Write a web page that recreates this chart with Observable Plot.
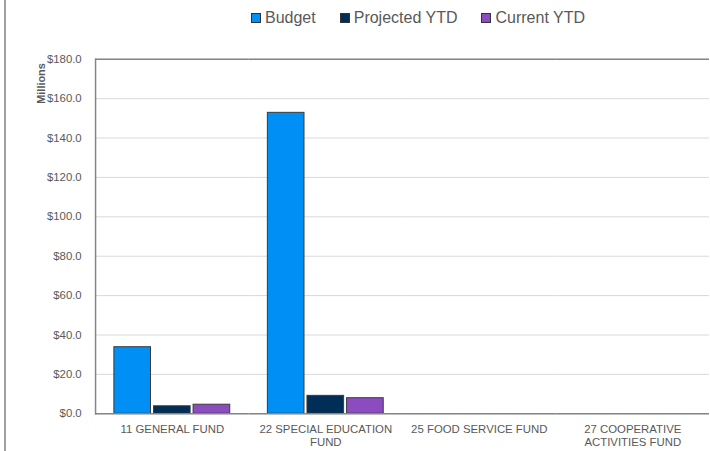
<!DOCTYPE html>
<html>
<head>
<meta charset="utf-8">
<script src="https://cdn.jsdelivr.net/npm/d3@7"></script>
<script src="https://cdn.jsdelivr.net/npm/@observablehq/plot@0.6"></script>
<style>
  html, body { margin: 0; padding: 0; background: #fff; overflow: hidden; }
  #wrap { position: relative; width: 710px; height: 451px; overflow: hidden; font-family: "Liberation Sans", Arial, sans-serif; }
  #edge { position: absolute; left: 4px; top: 0; bottom: 0; width: 2px; background: #a0a0a0; }
  #legend { position: absolute; top: 9px; left: 251px; display: flex; align-items: center; font-size: 16px; color: #595959; white-space: nowrap; }
  .item { display: flex; align-items: center; margin-right: 24px; }
  .sw { width: 8px; height: 8px; border: 1px solid #333; margin-right: 4px; }
  #chart { position: absolute; top: 35px; left: 0; }
</style>
</head>
<body>
<div id="wrap">
  <div id="edge"></div>
  <div id="legend"></div>
  <div id="chart"></div>
</div>
<script>
const categories = ["11 GENERAL FUND", "22 SPECIAL EDUCATION FUND", "25 FOOD SERVICE FUND", "27 COOPERATIVE ACTIVITIES FUND"];
const tickLabels = ["11 GENERAL FUND", "22 SPECIAL EDUCATION\nFUND", "25 FOOD SERVICE FUND", "27 COOPERATIVE\nACTIVITIES FUND"];
const series = ["Budget", "Projected YTD", "Current YTD"];
const colors = ["#0090F5", "#002E56", "#8A4CBE"];
const budget = [33.8, 152.8, 0, 0];
const projectedYTD = [3.8, 9.1, 0, 0];
const currentYTD = [4.6, 7.9, 0, 0];
const yTicks = [0, 20, 40, 60, 80, 100, 120, 140, 160, 180];

const valuesBySeries = [budget, projectedYTD, currentYTD];
const data = [];
categories.forEach((c, i) => {
  series.forEach((s, j) => {
    data.push({fund: c, series: s, value: valuesBySeries[j][i]});
  });
});

// legend
const legend = document.getElementById("legend");
series.forEach((s, j) => {
  const it = document.createElement("div");
  it.className = "item";
  const sw = document.createElement("div");
  sw.className = "sw";
  sw.style.background = colors[j];
  const t = document.createElement("span");
  t.textContent = s;
  it.appendChild(sw);
  it.appendChild(t);
  legend.appendChild(it);
});

const chart = Plot.plot({
  width: 717,
  height: 416,
  marginLeft: 95,
  marginRight: 0,
  marginTop: 24,
  marginBottom: 34,
  style: {fontFamily: "'Liberation Sans', Arial, sans-serif", fontSize: "11.5px", color: "#595959", background: "transparent"},
  fx: {domain: categories, padding: 0, label: null},
  x: {domain: series, paddingInner: 0.086, paddingOuter: 0.453, axis: null},
  y: {domain: [0, 180], label: null},
  color: {domain: series, range: colors},
  marks: [
    Plot.gridY(yTicks, {stroke: "#d9d9d9", strokeOpacity: 1, strokeWidth: 1}),
    Plot.barY(data, {fx: "fund", x: "series", y: "value", fill: "series", stroke: "#3a3a3a", strokeWidth: 1}),
    Plot.ruleY([0, 180], {stroke: "#858585", strokeWidth: 1.5}),
    Plot.frame({anchor: "left", facetAnchor: "left", stroke: "#858585", strokeWidth: 1.5}),
    Plot.axisY(yTicks, {tickSize: 0, tickPadding: 14, tickFormat: d => "$" + d.toFixed(1), label: null, fill: "#595959", fontSize: "11.5px"}),
    Plot.axisFx({anchor: "bottom", tickSize: 0, tickPadding: 10, tickFormat: d => tickLabels[categories.indexOf(d)], label: null, lineHeight: 1.15, fill: "#595959", fontSize: "11.5px"}),
    Plot.text([categories[0]], {fx: d => d, frameAnchor: "top-left", text: () => "Millions", rotate: -90, textAnchor: "end", dx: -59, dy: 4, fontWeight: "bold", fontSize: 11, fill: "#595959"})
  ]
});
document.getElementById("chart").appendChild(chart);
</script>
</body>
</html>
